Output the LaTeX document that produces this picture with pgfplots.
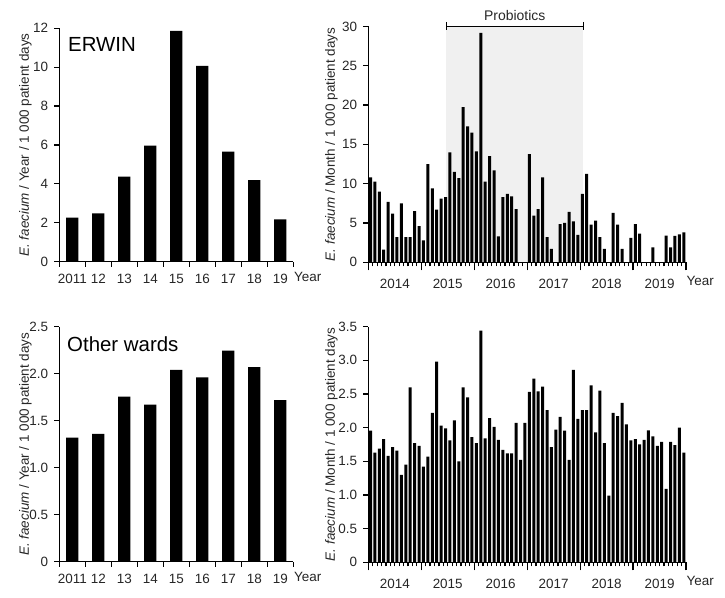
\documentclass[border=0pt]{standalone}
\usepackage{pgfplots}
\pgfplotsset{compat=1.18}
\usepackage{pgfplotstable}
\usepackage{fontspec}
\setmainfont{Liberation Sans}

\pgfplotstableread{
x y
1 10.8
2 10.25
3 9.0
4 1.6
5 7.7
6 6.2
7 3.2
8 7.5
9 3.2
10 3.2
11 6.5
12 4.6
13 2.8
14 12.5
15 9.4
16 6.7
17 8.1
18 8.3
19 14.0
20 11.5
21 10.7
22 19.75
23 17.3
24 16.5
25 14.1
26 29.2
27 10.25
28 13.5
29 11.7
30 3.3
31 8.3
32 8.7
33 8.4
34 6.75
35 0
36 0
37 13.75
38 5.95
39 6.75
40 10.8
41 3.2
42 1.7
43 0
44 4.85
45 5.0
46 6.4
47 5.2
48 3.5
49 8.7
50 11.25
51 4.8
52 5.3
53 3.2
54 1.7
55 0
56 6.3
57 4.8
58 1.7
59 0
60 3.1
61 4.85
62 3.65
63 0
64 0
65 1.9
66 0
67 0
68 3.4
69 1.9
70 3.35
71 3.55
72 3.8
}\erwinmonth

\pgfplotstableread{
x y
1 1.955
2 1.63
3 1.69
4 1.83
5 1.58
6 1.71
7 1.66
8 1.30
9 1.45
10 2.60
11 1.77
12 1.73
13 1.42
14 1.57
15 2.22
16 2.98
17 2.03
18 1.99
19 1.81
20 2.11
21 1.50
22 2.60
23 2.45
24 1.86
25 1.77
26 3.44
27 1.84
28 2.14
29 2.01
30 1.82
31 1.67
32 1.62
33 1.62
34 2.07
35 1.52
36 2.07
37 2.53
38 2.73
39 2.54
40 2.61
41 2.26
42 1.71
43 1.97
44 2.16
45 1.955
46 1.52
47 2.86
48 2.13
49 2.26
50 2.26
51 2.63
52 1.93
53 2.55
54 1.77
55 0.99
56 2.22
57 2.17
58 2.37
59 2.05
60 1.81
61 1.83
62 1.75
63 1.82
64 1.96
65 1.87
66 1.73
67 1.79
68 1.09
69 1.79
70 1.74
71 2.00
72 1.63
}\othermonth

\pgfplotsset{
  base/.style={
    scale only axis,
    axis x line*=bottom, axis y line*=left,
    axis line style={line width=1.2bp, black, -},
    tick align=outside,
    tick style={line width=1.2bp, black},
    major tick length=5bp,
    font=\fontsize{13.5}{16}\selectfont,
    tick label style={font=\fontsize{13.5}{16}\selectfont, text=black!85, inner sep=1.5bp},
    yticklabel style={xshift=-4.5bp},
    /pgf/number format/assume math mode=true,
    ylabel style={at={(axis description cs:0,0.5)}, anchor=center, font=\fontsize{13.5}{16}\selectfont, text=black!85},
    ybar, clip=false,
  },
  yearly/.style={
    base, width=234bp,
    xmin=-0.5, xmax=8.5,
    xtick={0,1,2,3,4,5,6,7,8},
    xticklabels={2011,12,13,14,15,16,17,18,19},
    xticklabel style={yshift=-6bp},
    major x tick style={draw=none},
    extra x ticks={-0.5,0.5,1.5,2.5,3.5,4.5,5.5,6.5,7.5,8.5},
    extra x tick labels={},
    extra x tick style={major x tick style={draw=black}},
    bar width=12.3bp,
    ylabel style={yshift=34bp},
  },
  monthly/.style={
    base, width=317.7bp,
    xmin=0.5, xmax=72.5,
    xtick={6.5,18.5,30.5,42.5,54.5,66.5},
    xticklabels={2014,2015,2016,2017,2018,2019},
    xticklabel style={yshift=-10bp},
    major x tick style={draw=none},
    extra x ticks={0.5,12.5,24.5,36.5,48.5,60.5,72.5},
    extra x tick labels={},
    extra x tick style={major tick length=8bp, major x tick style={draw=black}},
    minor xtick={0.5,1.5,...,72.5},
    minor tick length=4bp,
    bar width=3bp,
    ylabel style={yshift=37bp},
  },
}

\begin{document}
\begin{tikzpicture}
\useasboundingbox (0,0) rectangle (725bp,598bp);

% Top left: ERWIN yearly
\begin{axis}[yearly, at={(59.3bp,336.3bp)}, anchor=south west, height=233.4bp,
  ymin=0, ymax=12, ytick={0,2,4,6,8,10,12},
  ylabel={\textit{E. faecium} / Year / 1 000 patient days}]
\addplot[fill=black, draw=none] coordinates {(0,2.26) (1,2.49) (2,4.37) (3,5.97) (4,11.87) (5,10.07) (6,5.66) (7,4.19) (8,2.18)};
\end{axis}

% Top right: ERWIN monthly
\begin{axis}[monthly, at={(368.3bp,335.7bp)}, anchor=south west, height=235.8bp,
  ymin=0, ymax=30, ytick={0,5,10,15,20,25,30},
  ylabel={\textit{E. faecium} / Month / 1 000 patient days}]
\fill[black!6] (axis cs:18.15,0) rectangle (axis cs:49.2,30);
\addplot[fill=black, draw=none] table[x=x, y=y] {\erwinmonth};
\draw[line width=1.3bp] (axis cs:18.15,30) -- (axis cs:49.2,30);
\draw[line width=1.3bp] ([yshift=4.5bp]axis cs:18.15,30) -- ([yshift=-4bp]axis cs:18.15,30);
\draw[line width=1.3bp] ([yshift=4.5bp]axis cs:49.2,30) -- ([yshift=-4bp]axis cs:49.2,30);
\node[anchor=south, inner sep=0pt, text=black!85, font=\fontsize{14}{16}\selectfont] at ([yshift=6bp]axis cs:33.675,30) {Probiotics};
\end{axis}

% Bottom left: other wards yearly
\begin{axis}[yearly, at={(59.3bp,36.3bp)}, anchor=south west, height=235bp,
  ymin=0, ymax=2.5, ytick={0,0.5,1,1.5,2,2.5}, yticklabels={0,0.5,1.0,1.5,2.0,2.5},
  ylabel={\textit{E. faecium} / Year / 1 000 patient days}]
\addplot[fill=black, draw=none] coordinates {(0,1.32) (1,1.36) (2,1.755) (3,1.67) (4,2.04) (5,1.96) (6,2.245) (7,2.07) (8,1.72)};
\end{axis}

% Bottom right: other wards monthly
\begin{axis}[monthly, at={(368.3bp,35.7bp)}, anchor=south west, height=235.6bp,
  ymin=0, ymax=3.5, ytick={0,0.5,1,1.5,2,2.5,3,3.5}, yticklabels={0,0.5,1.0,1.5,2.0,2.5,3.0,3.5},
  ylabel={\textit{E. faecium} / Month / 1 000 patient days}]
\addplot[fill=black, draw=none] table[x=x, y=y] {\othermonth};
\end{axis}

% Panel titles and axis end labels
\node[anchor=base west, inner sep=0pt, font=\fontsize{20.5}{24}\selectfont] at (68bp,546bp) {ERWIN};
\node[anchor=base west, inner sep=0pt, font=\fontsize{20.5}{24}\selectfont] at (67bp,246bp) {Other wards};
\node[anchor=base west, inner sep=0pt, text=black!85, font=\fontsize{13.5}{16}\selectfont] at (294bp,316.3bp) {Year};
\node[anchor=base west, inner sep=0pt, text=black!85, font=\fontsize{13.5}{16}\selectfont] at (686.5bp,312.3bp) {Year};
\node[anchor=base west, inner sep=0pt, text=black!85, font=\fontsize{13.5}{16}\selectfont] at (294bp,16.3bp) {Year};
\node[anchor=base west, inner sep=0pt, text=black!85, font=\fontsize{13.5}{16}\selectfont] at (686.5bp,12.3bp) {Year};
\end{tikzpicture}
\end{document}
